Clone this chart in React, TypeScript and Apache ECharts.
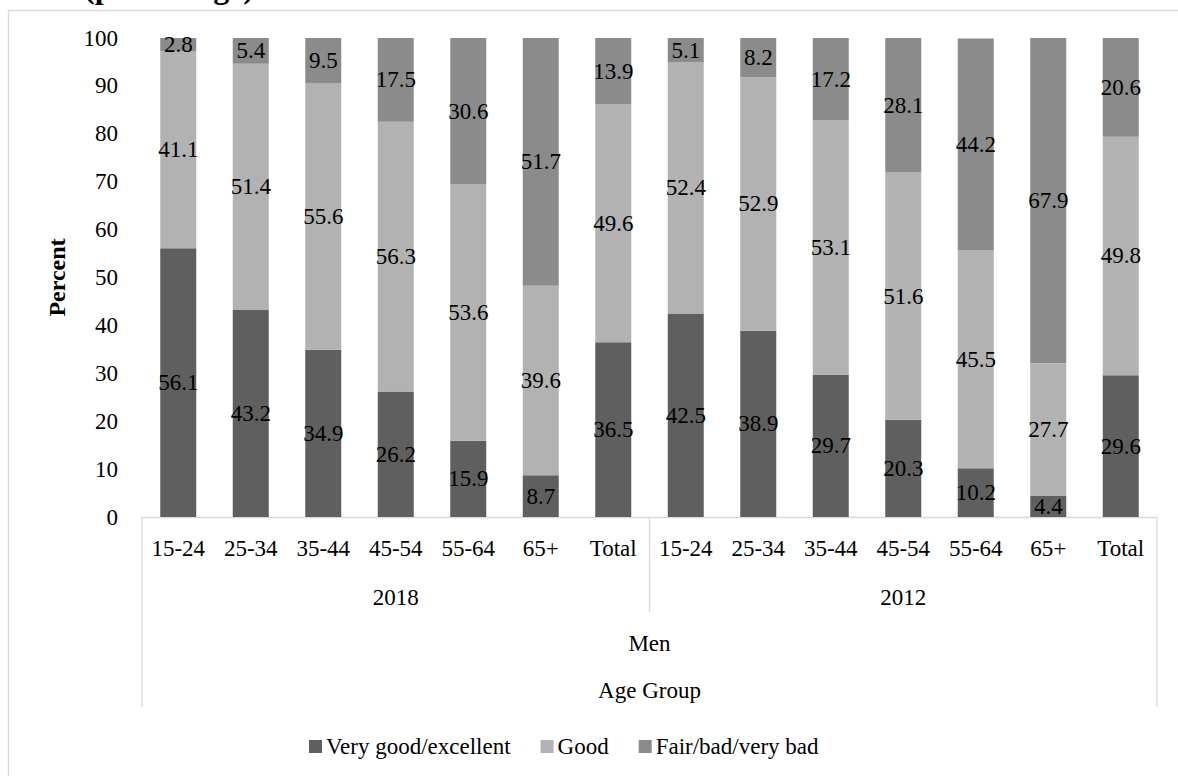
import { useEffect, useRef } from "react";
import * as echarts from "echarts";

// Self-rated health of men by age group, two survey years
const ageGroups = ["15-24", "25-34", "35-44", "45-54", "55-64", "65+", "Total"];
const years = ["2018", "2012"];
const seriesNames = ["Very good/excellent", "Good", "Fair/bad/very bad"];

const veryGood2018 = [56.1, 43.2, 34.9, 26.2, 15.9, 8.7, 36.5];
const good2018 = [41.1, 51.4, 55.6, 56.3, 53.6, 39.6, 49.6];
const fair2018 = [2.8, 5.4, 9.5, 17.5, 30.6, 51.7, 13.9];

const veryGood2012 = [42.5, 38.9, 29.7, 20.3, 10.2, 4.4, 29.6];
const good2012 = [52.4, 52.9, 53.1, 51.6, 45.5, 27.7, 49.8];
const fair2012 = [5.1, 8.2, 17.2, 28.1, 44.2, 67.9, 20.6];

const sexLabel = "Men";
const axisTitle = "Age Group";
const yAxisTitle = "Percent";
const titleText = "2018 (percentage)";

const W = 1178;
const H = 776;
const FONT = "'Liberation Serif', 'Times New Roman', serif";
const COLORS = ["#5f5f5f", "#b2b2b2", "#8b8b8b"];
const LINE = "#d9d9d9";

// plot box in pixels
const PLOT_LEFT = 142;
const PLOT_RIGHT = 1157;
const PLOT_TOP = 38;
const PLOT_BOTTOM = 517;

export default function App() {
  const ref = useRef<HTMLDivElement>(null);

  useEffect(() => {
    if (!ref.current) return;
    const chart = echarts.init(ref.current, undefined, { renderer: "svg" });

    const categories: string[] = [];
    years.forEach((y) => ageGroups.forEach((a) => categories.push(y + "|" + a)));
    const stacks = [
      [...veryGood2018, ...veryGood2012],
      [...good2018, ...good2012],
      [...fair2018, ...fair2012],
    ];

    const band = (PLOT_RIGHT - PLOT_LEFT) / categories.length;
    const groupSize = ageGroups.length;

    const textStyle = (x: number, y: number, text: string, extra: any = {}) => ({
      type: "text",
      x,
      y,
      silent: true,
      style: {
        text,
        font: `23px ${FONT}`,
        fill: "#000",
        align: "center",
        verticalAlign: "middle",
        ...extra,
      },
    });

    const vline = (x: number, y1: number, y2: number) => ({
      type: "line",
      silent: true,
      shape: { x1: x, y1, x2: x, y2 },
      style: { stroke: LINE, lineWidth: 1.3 },
    });

    const graphics: any[] = [
      {
        type: "rect",
        silent: true,
        z: -10,
        shape: { x: 8.5, y: 10.5, width: 1300, height: 900 },
        style: { fill: "none", stroke: LINE, lineWidth: 1.3 },
      },
      {
        type: "text",
        x: 12,
        y: 3,
        silent: true,
        style: {
          text: titleText,
          font: `bold 32px ${FONT}`,
          fill: "#000",
          align: "left",
          verticalAlign: "bottom",
        },
      },
      {
        type: "text",
        x: 57,
        y: (PLOT_TOP + PLOT_BOTTOM) / 2,
        rotation: Math.PI / 2,
        silent: true,
        style: {
          text: yAxisTitle,
          font: `bold 24px ${FONT}`,
          fill: "#000",
          align: "center",
          verticalAlign: "middle",
        },
      },
      vline(PLOT_LEFT, PLOT_BOTTOM, 707),
      vline(PLOT_RIGHT, PLOT_BOTTOM, 707),
      vline(PLOT_LEFT + band * groupSize, PLOT_BOTTOM, 612),
    ];
    years.forEach((y, i) => {
      graphics.push(textStyle(PLOT_LEFT + band * groupSize * (i + 0.5), 597, y));
    });
    graphics.push(textStyle((PLOT_LEFT + PLOT_RIGHT) / 2, 643, sexLabel));
    graphics.push(textStyle((PLOT_LEFT + PLOT_RIGHT) / 2, 690, axisTitle));

    chart.setOption({
      animation: false,
      textStyle: { fontFamily: FONT },
      grid: {
        left: PLOT_LEFT,
        right: W - PLOT_RIGHT,
        top: PLOT_TOP,
        bottom: H - PLOT_BOTTOM,
        containLabel: false,
      },
      legend: {
        data: seriesNames,
        left: 304,
        top: 730,
        icon: "rect",
        itemWidth: 13,
        itemHeight: 13,
        itemGap: 30,
        textStyle: { fontSize: 23, color: "#000", fontFamily: FONT, padding: [0, 0, 0, -1] },
      },
      xAxis: {
        type: "category",
        data: categories,
        axisLine: { show: true, lineStyle: { color: LINE, width: 1.3 } },
        axisTick: { show: false },
        axisLabel: {
          interval: 0,
          margin: 20,
          fontSize: 23,
          color: "#000",
          fontFamily: FONT,
          formatter: (v: string) => v.split("|")[1],
        },
      },
      yAxis: {
        type: "value",
        min: 0,
        max: 100,
        interval: 10,
        axisLine: { show: false },
        axisTick: { show: false },
        splitLine: { show: false },
        axisLabel: { margin: 24, fontSize: 23, color: "#000", fontFamily: FONT },
      },
      series: seriesNames.map((name, i) => ({
        name,
        type: "bar",
        stack: "total",
        barWidth: 36,
        data: stacks[i],
        itemStyle: { color: COLORS[i] },
        label: {
          show: true,
          position: "inside",
          fontSize: 23,
          color: "#000",
          fontFamily: FONT,
          formatter: (p: any) => Number(p.value).toFixed(1),
        },
      })),
      graphic: graphics,
    });

    return () => chart.dispose();
  }, []);

  return (
    <div
      ref={ref}
      style={{ position: "fixed", left: 0, top: 0, width: W, height: H, background: "#fff" }}
    />
  );
}
